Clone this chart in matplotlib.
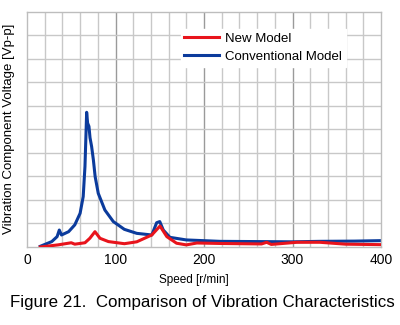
import matplotlib
matplotlib.use("Agg")
import matplotlib.pyplot as plt

plt.rcParams["font.family"] = ["Liberation Sans", "DejaVu Sans"]

# vibration curves, speed [r/min] vs voltage [Vp-p]
conv_speed = [15, 28, 34, 36.5, 39, 47, 54, 60, 63.5, 65.5, 66.7, 67.4, 68.5, 70, 71.2,
              73, 75, 77, 80.5, 88, 97.5, 110, 124, 141, 146.5, 150, 154, 161.5,
              180, 218, 260, 300, 330, 370, 400]
conv_volt = [0.03, 0.23, 0.44, 0.72, 0.51, 0.65, 0.94, 1.43, 2.14, 3.42, 4.85, 5.72, 5.26,
             5.12, 4.64, 4.27, 3.7, 2.99, 2.28, 1.57, 1.08, 0.75, 0.58, 0.51, 1.03, 1.08,
             0.72, 0.41, 0.30, 0.24, 0.23, 0.22, 0.24, 0.25, 0.27]

new_speed = [15, 35, 50, 54, 65.5, 71, 76.8, 82.5, 92, 110, 124, 141, 150.3, 158, 169,
             180, 192, 218, 265, 270.8, 276, 305, 331, 360, 400]
new_volt = [0.0, 0.09, 0.18, 0.12, 0.18, 0.37, 0.65, 0.37, 0.23, 0.14, 0.22, 0.51, 0.89,
            0.44, 0.16, 0.09, 0.17, 0.15, 0.13, 0.2, 0.11, 0.2, 0.2, 0.12, 0.1]

x_ticks = [0, 100, 200, 300, 400]

fig = plt.figure(figsize=(4.0, 3.25), dpi=100)
ax = fig.add_axes([0.0675, 0.24, 0.885, 0.7246])

ax.set_xlim(0, 400)
ax.set_ylim(0, 10)

# grid: fine every 20 r/min, heavier every 100
for gx in range(20, 400, 20):
    heavy = gx % 100 == 0
    ax.axvline(gx, color="#9a9a9a" if heavy else "#c8c8c8", lw=1.0, zorder=0)
for gy in range(1, 10):
    ax.axhline(gy, color="#c8c8c8", lw=1.0, zorder=0)

ax.plot(new_speed, new_volt, color="#e8141c", lw=2.2, label="New Model", zorder=3)
ax.plot(conv_speed, conv_volt, color="#0b3b9c", lw=2.2, label="Conventional Model", zorder=2)

for s in ax.spines.values():
    s.set_color("#bdbdbd")
    s.set_linewidth(1.0)

ax.set_yticks([])
ax.set_xticks(x_ticks)
ax.tick_params(axis="x", length=0, pad=4, labelsize=10)

ax.set_xlabel("Speed [r/min]", fontsize=8.5)
ax.xaxis.set_label_coords(0.47, -0.115)
ax.set_ylabel("Vibration Component Voltage [Vp-p]", fontsize=9.5)
ax.yaxis.set_label_coords(-0.035, 0.5)

leg = ax.legend(loc="upper left", bbox_to_anchor=(0.415, 0.955), frameon=True,
                fancybox=False, edgecolor="white", framealpha=1.0,
                prop={"size": 9.5},
                handlelength=2.6, handletextpad=0.5, labelspacing=0.45,
                borderpad=0.3)
leg.set_zorder(5)

fig.text(0.505, 0.068, "Figure 21.  Comparison of Vibration Characteristics",
         ha="center", va="center", fontsize=12.2)

fig.savefig("out.png", dpi=100)
